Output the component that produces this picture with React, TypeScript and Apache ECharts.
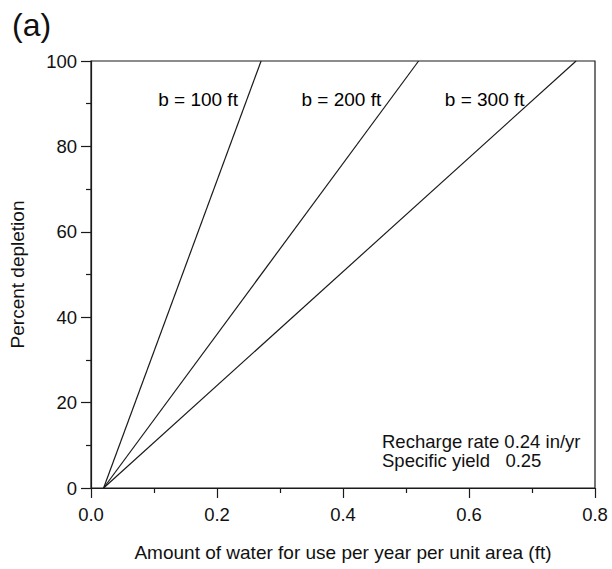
import React, { useEffect, useRef } from "react";
import * as echarts from "echarts";

// Data
const rechargeFt = 0.02; // 0.24 in/yr = 0.02 ft/yr, depletion starts here
const thicknessLabels = ["b = 100 ft", "b = 200 ft", "b = 300 ft"];
const fullDepletionUse = [0.27, 0.52, 0.77]; // use (ft/yr) at 100% depletion
const depletionRange = [0, 100];
const xTicks = [0, 0.2, 0.4, 0.6, 0.8];
const yTicks = [0, 20, 40, 60, 80, 100];
const labelDepletion = 91;

const FONT = "'Liberation Sans', Arial, Helvetica, sans-serif";
const INK = "#111111";

export default function App() {
  const ref = useRef<HTMLDivElement>(null);
  useEffect(() => {
    if (!ref.current) return;
    const chart = echarts.init(ref.current, null, { renderer: "svg" });

    const lineSeries = fullDepletionUse.map((endX, i) => ({
      type: "line",
      name: thicknessLabels[i],
      data: [
        [rechargeFt, depletionRange[0]],
        [endX, depletionRange[1]],
      ],
      symbol: "none",
      lineStyle: { color: "#1a1a1a", width: 1.2 },
      silent: true,
    }));

    const labelData = fullDepletionUse.map((endX, i) => {
      const x = rechargeFt + ((endX - rechargeFt) * labelDepletion) / 100;
      return { value: [x, labelDepletion], name: thicknessLabels[i] };
    });

    chart.setOption({
      animation: false,
      backgroundColor: "#ffffff",
      grid: {
        left: 90,
        right: 17,
        top: 61,
        bottom: 81,
        show: true,
        borderColor: "#1a1a1a",
        borderWidth: 1.2,
      },
      xAxis: {
        type: "value",
        min: xTicks[0],
        max: xTicks[xTicks.length - 1],
        interval: 0.2,
        name: "Amount of water for use per year per unit area (ft)",
        nameLocation: "middle",
        nameGap: 55,
        nameTextStyle: { fontFamily: FONT, fontSize: 19, color: INK },
        axisLine: { show: true, onZero: false, lineStyle: { color: "#1a1a1a", width: 1.2 } },
        axisTick: { show: true, inside: false, length: 10, lineStyle: { color: "#1a1a1a", width: 1.2 } },
        minorTick: { show: true, splitNumber: 2, length: 5, lineStyle: { color: "#1a1a1a", width: 1.2 } },
        splitLine: { show: false },
        axisLabel: {
          margin: 17,
          fontFamily: FONT,
          fontSize: 18.5,
          color: INK,
          formatter: (v: number) => v.toFixed(1),
        },
      },
      yAxis: {
        type: "value",
        min: yTicks[0],
        max: yTicks[yTicks.length - 1],
        interval: 20,
        name: "Percent depletion",
        nameLocation: "middle",
        nameGap: 64,
        nameTextStyle: { fontFamily: FONT, fontSize: 19, color: INK },
        axisLine: { show: true, onZero: false, lineStyle: { color: "#1a1a1a", width: 1.2 } },
        axisTick: { show: true, inside: false, length: 10, lineStyle: { color: "#1a1a1a", width: 1.2 } },
        minorTick: { show: true, splitNumber: 2, length: 5, lineStyle: { color: "#1a1a1a", width: 1.2 } },
        splitLine: { show: false },
        axisLabel: { margin: 14, fontFamily: FONT, fontSize: 18.5, color: INK },
      },
      series: [
        ...lineSeries,
        {
          type: "scatter",
          data: labelData,
          symbolSize: 0,
          silent: true,
          itemStyle: { opacity: 1, color: INK },
          label: {
            show: true,
            position: "left",
            distance: 9,
            formatter: (p: any) => p.name,
            fontFamily: FONT,
            fontSize: 19,
            color: "#000000",
            opacity: 1,
            textBorderWidth: 0,
          },
        },
      ],
      graphic: [
        {
          type: "text",
          left: 12,
          top: 9,
          style: { text: "(a)", fontFamily: FONT, fontSize: 32, fill: INK },
        },
        {
          type: "text",
          left: 382,
          top: 432,
          style: {
            text: "Recharge rate 0.24 in/yr\nSpecific yield   0.25",
            fontFamily: FONT,
            fontSize: 18.5,
            lineHeight: 19,
            fill: INK,
          },
        },
      ],
    });
    return () => chart.dispose();
  }, []);
  return (
    <div
      ref={ref}
      style={{ position: "fixed", left: 0, top: 0, width: 612, height: 569 }}
    />
  );
}
